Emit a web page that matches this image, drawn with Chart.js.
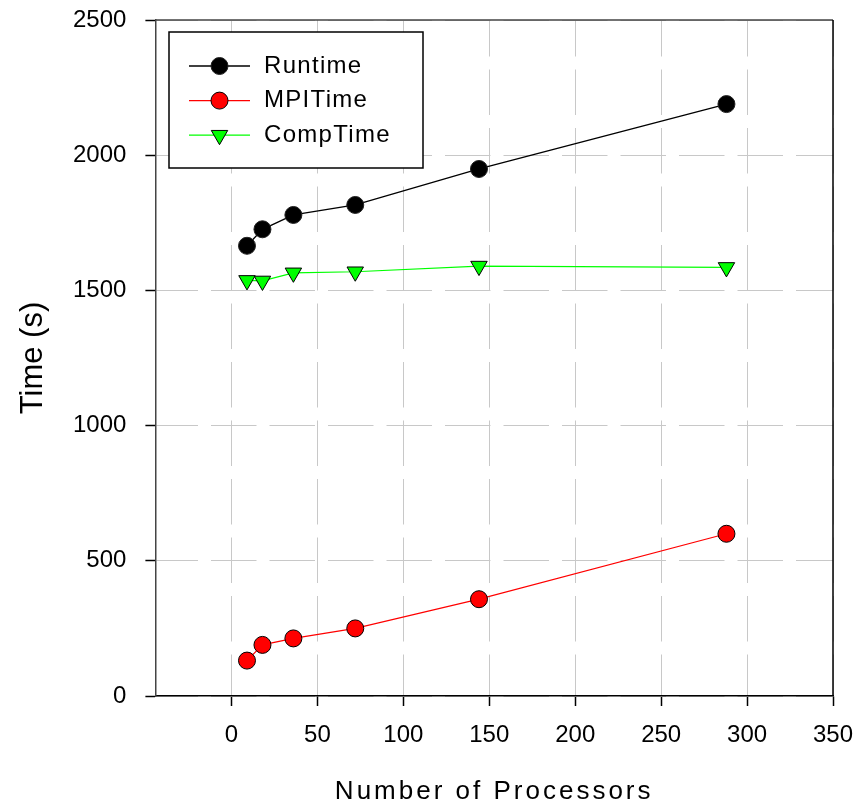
<!DOCTYPE html>
<html><head><meta charset="utf-8">
<script src="https://cdn.jsdelivr.net/npm/chart.js@4.4.1/dist/chart.umd.min.js"></script>
<style>html,body{margin:0;padding:0;background:#fff;} #wrap{width:863px;height:805px;}</style>
</head><body><div id="wrap"><canvas id="c" width="863" height="805"></canvas></div>
<script>
const processors = [9, 18, 36, 72, 144, 288];
const runtime = [1665, 1726, 1779, 1816, 1949, 2189];
const mpiTime = [131, 189, 213, 250, 358, 600];
const compTime = [1537, 1535, 1565, 1569, 1590, 1585];
const xTicks = [0, 50, 100, 150, 200, 250, 300, 350];
const yTicks = [0, 500, 1000, 1500, 2000, 2500];
const seriesNames = ['Runtime', 'MPITime', 'CompTime'];
const xTitle = 'Number of Processors';
const yTitle = 'Time (s)';

const FONT = "'Liberation Sans', Arial, sans-serif";
Chart.defaults.font.family = FONT;
Chart.defaults.color = '#000';

const toXY = vals => processors.map((x, i) => ({x: x, y: vals[i]}));

const spacingPlugin = {
  id: 'spacing',
  beforeDraw(chart) {
    const s = chart.scales.x;
    if (!s._wrappedTitle) {
      const orig = s.drawTitle;
      s.drawTitle = function () {
        this.ctx.save();
        this.ctx.letterSpacing = '3px';
        orig.apply(this, arguments);
        this.ctx.restore();
      };
      s._wrappedTitle = true;
    }
  }
};

const framePlugin = {
  id: 'frame',
  beforeDatasetsDraw(chart) {
    const {ctx, chartArea: a} = chart;
    ctx.save();
    ctx.lineWidth = 1.5;
    ctx.strokeStyle = '#444';
    ctx.beginPath(); ctx.moveTo(a.left, a.top); ctx.lineTo(a.right, a.top); ctx.stroke();
    ctx.strokeStyle = '#000';
    ctx.beginPath(); ctx.moveTo(a.right, a.top); ctx.lineTo(a.right, a.bottom); ctx.stroke();
    ctx.restore();
  }
};

const legendPlugin = {
  id: 'boxLegend',
  afterDatasetsDraw(chart) {
    const ctx = chart.ctx;
    ctx.save();
    const x0 = 169, y0 = 32, w = 254, h = 136;
    ctx.fillStyle = '#fff';
    ctx.fillRect(x0, y0, w, h);
    ctx.lineWidth = 1.5;
    ctx.strokeStyle = '#000';
    ctx.strokeRect(x0, y0, w, h);
    chart.data.datasets.forEach((ds, i) => {
      const y = 66 + i * 34.6;
      ctx.strokeStyle = ds.borderColor;
      ctx.lineWidth = ds.borderWidth;
      ctx.beginPath(); ctx.moveTo(189, y); ctx.lineTo(250, y); ctx.stroke();
      ctx.fillStyle = ds.pointBackgroundColor;
      ctx.strokeStyle = ds.pointBorderColor;
      ctx.lineWidth = ds.pointBorderWidth;
      Chart.helpers.drawPoint(ctx, {
        pointStyle: ds.pointStyle,
        rotation: ds.pointRotation || 0,
        radius: ds.pointRadius,
        borderWidth: ds.pointBorderWidth
      }, 219.5, y);
      ctx.fillStyle = '#000';
      ctx.font = '24px ' + FONT;
      ctx.letterSpacing = '1.3px';
      ctx.textBaseline = 'middle';
      ctx.textAlign = 'left';
      ctx.fillText(ds.label, 264, y);
      ctx.letterSpacing = '0px';
    });
    ctx.restore();
  }
};

new Chart(document.getElementById('c'), {
  type: 'line',
  data: {
    datasets: [
      {
        label: seriesNames[0], data: toXY(runtime),
        borderColor: '#000', borderWidth: 1.3, backgroundColor: '#000',
        pointBackgroundColor: '#000', pointBorderColor: '#222', pointBorderWidth: 1,
        pointStyle: 'circle', pointRadius: 8.5, pointHoverRadius: 8.5, tension: 0
      },
      {
        label: seriesNames[1], data: toXY(mpiTime),
        borderColor: '#ff0000', borderWidth: 1.2, backgroundColor: '#ff0000',
        pointBackgroundColor: '#ff0000', pointBorderColor: '#000', pointBorderWidth: 1,
        pointStyle: 'circle', pointRadius: 8.5, pointHoverRadius: 8.5, tension: 0
      },
      {
        label: seriesNames[2], data: toXY(compTime),
        borderColor: '#00ff00', borderWidth: 1.2, backgroundColor: '#00ff00',
        pointBackgroundColor: '#00ff00', pointBorderColor: '#000', pointBorderWidth: 1,
        pointStyle: 'triangle', pointRotation: 180, pointRadius: 9.5, pointHoverRadius: 9.5, tension: 0
      }
    ]
  },
  options: {
    responsive: false,
    animation: false,
    events: [],
    layout: {padding: {top: 20, right: 30, left: 0, bottom: 0}},
    plugins: {legend: {display: false}, tooltip: {enabled: false}},
    scales: {
      x: {
        type: 'linear', min: -44.3, max: 350,
        afterBuildTicks: s => { s.ticks = xTicks.map(v => ({value: v})); },
        ticks: {font: {size: 24, lineHeight: 2.458}, padding: 0, color: '#000', callback: v => String(v), maxRotation: 0, autoSkip: false},
        grid: {color: '#c8c8c8', lineWidth: 1, tickColor: '#000', tickLength: 10, tickWidth: 1.5},
        border: {color: '#000', width: 1.5, dash: [45.5, 13], dashOffset: 9},
        title: {display: true, text: xTitle, color: '#000', font: {size: 26, lineHeight: 1}, padding: {top: 14, bottom: 0}}
      },
      y: {
        type: 'linear', min: 0, max: 2500,
        afterBuildTicks: s => { s.ticks = yTicks.map(v => ({value: v})); },
        ticks: {font: {size: 24, lineHeight: 0.05}, padding: 19, color: '#000', callback: v => String(v)},
        grid: {color: '#c8c8c8', lineWidth: 1, tickColor: '#000', tickLength: 10, tickWidth: 1.5},
        border: {color: '#444', width: 1.5, dash: [45.5, 13], dashOffset: 4},
        title: {display: true, text: yTitle, color: '#000', font: {size: 31, lineHeight: 1}, padding: {top: 18, bottom: 5}}
      }
    }
  },
  plugins: [spacingPlugin, framePlugin, legendPlugin]
});
</script>
</body></html>
